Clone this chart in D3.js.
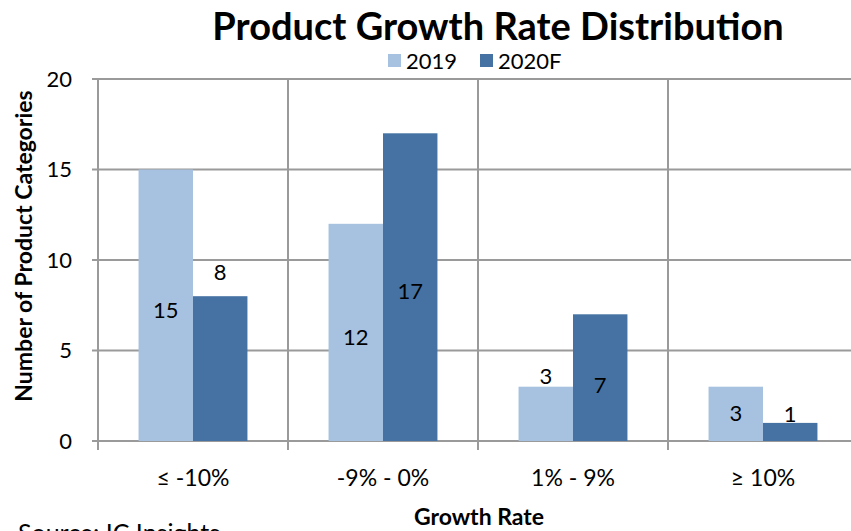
<!DOCTYPE html>
<html>
<head>
<meta charset="utf-8">
<script src="https://cdn.jsdelivr.net/npm/d3@7"></script>
<style>
  body { margin: 0; background: #fff; }
  text { font-family: Lato, "Open Sans", sans-serif; fill: #000; }
</style>
</head>
<body>
<div id="chart"></div>
<script>
var categories = ['≤ -10%', '-9% - 0%', '1% - 9%', '≥ 10%'];
var seriesNames = ['2019', '2020F'];
var values2019 = [15, 12, 3, 3];
var values2020 = [8, 17, 7, 1];
// where Excel put the data labels, in axis units
var labelPos2019 = [7.2, 5.75, 3.55, 1.55];
var labelPos2020 = [9.3, 8.25, 3.1, 1.45];
var yTicks = [0, 5, 10, 15, 20];

var colors = ['#a7c1e0', '#4572a2'];

var margin = {top: 79, right: -7, bottom: 90, left: 98},
    width = 851 - margin.left - margin.right,
    height = 531 - margin.top - margin.bottom;

var svg = d3.select('#chart')
    .append('svg')
        .attr('width', 851)
        .attr('height', 531);

var g = svg.append('g')
    .attr('transform', 'translate(' + margin.left + ',' + margin.top + ')');

var x = d3.scaleBand()
    .domain(categories)
    .range([0, width]);

var x1 = d3.scaleBand()
    .domain(seriesNames)
    .range([0, x.bandwidth()])
    .paddingOuter(0.745)
    .paddingInner(0);

var y = d3.scaleLinear()
    .domain([0, 20])
    .range([height, 0]);

// horizontal grid
g.append('g')
    .selectAll('line')
    .data(yTicks)
    .enter()
    .append('line')
    .attr('x1', -6)
    .attr('x2', width)
    .attr('y1', d => y(d))
    .attr('y2', d => y(d))
    .style('stroke', '#9a9a9a')
    .style('stroke-width', 2);

// vertical grid between categories
var bounds = categories.map(c => x(c)).concat([width]);
g.append('g')
    .selectAll('line')
    .data(bounds)
    .enter()
    .append('line')
    .attr('x1', d => d)
    .attr('x2', d => d)
    .attr('y1', 0)
    .attr('y2', height + 9)
    .style('stroke', '#9a9a9a')
    .style('stroke-width', 2);

// y tick labels
g.append('g')
    .selectAll('text')
    .data(yTicks)
    .enter()
    .append('text')
    .attr('x', -26)
    .attr('y', d => y(d))
    .attr('dy', '0.35em')
    .attr('text-anchor', 'end')
    .style('font-size', '22px')
    .text(d => d);

// category labels
g.append('g')
    .selectAll('text')
    .data(categories)
    .enter()
    .append('text')
    .attr('x', d => x(d) + x.bandwidth() / 2)
    .attr('y', height + 45)
    .attr('text-anchor', 'middle')
    .style('font-size', '23px')
    .text(d => d);

var rows = categories.map((c, i) => ({
    cat: c,
    bars: [
        {name: '2019', value: values2019[i], pos: labelPos2019[i], color: colors[0]},
        {name: '2020F', value: values2020[i], pos: labelPos2020[i], color: colors[1]}
    ]
}));

var groups = g.append('g')
    .selectAll('g')
    .data(rows)
    .enter()
    .append('g')
    .attr('transform', d => 'translate(' + x(d.cat) + ',0)');

groups.selectAll('rect')
    .data(d => d.bars)
    .enter()
    .append('rect')
    .attr('x', d => x1(d.name))
    .attr('y', d => y(d.value))
    .attr('width', x1.bandwidth())
    .attr('height', d => height - y(d.value))
    .style('fill', d => d.color);

groups.selectAll('text')
    .data(d => d.bars)
    .enter()
    .append('text')
    .attr('x', d => x1(d.name) + x1.bandwidth() / 2)
    .attr('y', d => y(d.pos))
    .attr('dy', '0.35em')
    .attr('text-anchor', 'middle')
    .style('font-size', '22px')
    .text(d => d.value);

// title
svg.append('text')
    .attr('x', 498)
    .attr('y', 40)
    .attr('text-anchor', 'middle')
    .style('font-size', '38px')
    .style('font-weight', 'bold')
    .text('Product Growth Rate Distribution');

// legend
var legend = svg.append('g')
    .attr('transform', 'translate(388,54)');
var legendX = [0, 92];
seriesNames.forEach((s, i) => {
    legend.append('rect')
        .attr('x', legendX[i])
        .attr('y', 0)
        .attr('width', 13)
        .attr('height', 13)
        .style('fill', colors[i]);
    legend.append('text')
        .attr('x', legendX[i] + 18)
        .attr('y', 7)
        .attr('dy', '0.35em')
        .style('font-size', '22px')
        .text(s);
});

// axis titles
svg.append('text')
    .attr('transform', 'translate(32,246) rotate(-90)')
    .attr('text-anchor', 'middle')
    .style('font-size', '23px')
    .style('font-weight', 'bold')
    .text('Number of Product Categories');

svg.append('text')
    .attr('x', 479)
    .attr('y', 525)
    .attr('text-anchor', 'middle')
    .style('font-size', '23px')
    .style('font-weight', 'bold')
    .text('Growth Rate');

svg.append('text')
    .attr('x', 18)
    .attr('y', 542)
    .style('font-size', '25px')
    .text('Source:  IC Insights');
</script>
</body>
</html>
